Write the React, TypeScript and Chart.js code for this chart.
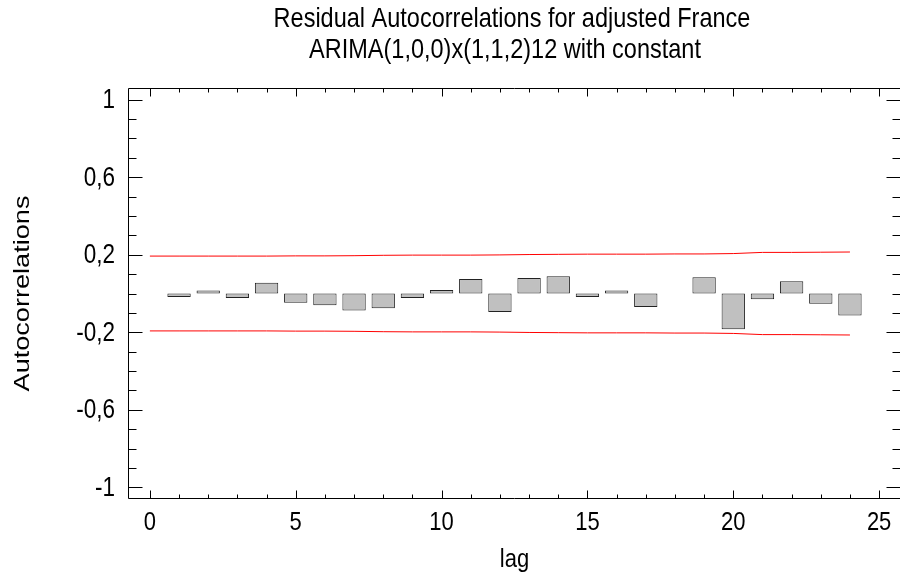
import React, { useEffect, useRef } from 'react';
import { Chart, registerables } from 'chart.js';

Chart.register(...registerables);

const lags = [1, 2, 3, 4, 5, 6, 7, 8, 9, 10, 11, 12, 13, 14, 15, 16, 17, 18, 19, 20, 21, 22, 23, 24];
const acf = [-0.018, 0.015, -0.023, 0.055, -0.048, -0.06, -0.088, -0.076, -0.023, 0.018, 0.075, -0.095,
  0.08, 0.089, -0.018, 0.015, -0.07, null, 0.084, -0.185, -0.03, 0.063, -0.053, -0.114];

const limitLags = [0, 1, 2, 3, 4, 5, 6, 7, 8, 9, 10, 11, 12, 13, 14, 15, 16, 17, 18, 19, 20, 21, 22, 23, 24];
const upperLimit = [0.193, 0.193, 0.193, 0.193, 0.193, 0.194, 0.194, 0.195, 0.197, 0.198, 0.198, 0.198, 0.199,
  0.201, 0.202, 0.203, 0.203, 0.203, 0.204, 0.204, 0.206, 0.212, 0.212, 0.213, 0.214];
const lowerLimit = [-0.193, -0.193, -0.193, -0.193, -0.193, -0.194, -0.194, -0.195, -0.197, -0.198, -0.198, -0.198, -0.199,
  -0.201, -0.202, -0.203, -0.203, -0.203, -0.204, -0.204, -0.206, -0.212, -0.212, -0.213, -0.214];

const xMajorTicks = [0, 5, 10, 15, 20, 25];
const xTickLabels = ['0', '5', '10', '15', '20', '25'];
const xMinorTicks = [0, 1, 2, 3, 4, 5, 6, 7, 8, 9, 10, 11, 12, 13, 14, 15, 16, 17, 18, 19, 20, 21, 22, 23, 24, 25];
const yMajorTicks = [1, 0.6, 0.2, -0.2, -0.6, -1];
const yTickLabels = ['1', '0,6', '0,2', '-0,2', '-0,6', '-1'];
const yMinorTicks = [1, 0.9, 0.8, 0.7, 0.6, 0.5, 0.4, 0.3, 0.2, 0.1, 0, -0.1, -0.2, -0.3, -0.4, -0.5, -0.6, -0.7, -0.8, -0.9, -1];

const titleLines = ['Residual Autocorrelations for adjusted France', 'ARIMA(1,0,0)x(1,1,2)12 with constant'];
const xTitle = 'lag';
const yTitle = 'Autocorrelations';

const FONT = '"Liberation Sans", Arial, sans-serif';
const STRETCH = 1.2;

function drawText(ctx: CanvasRenderingContext2D, text: string, x: number, y: number, size: number, align: CanvasTextAlign, rotate = false) {
  ctx.save();
  ctx.translate(x, y);
  if (rotate) {
    ctx.rotate(-Math.PI / 2);
    ctx.scale(STRETCH, 1);
  } else {
    ctx.scale(1, STRETCH);
  }
  ctx.font = `${size}px ${FONT}`;
  ctx.textAlign = align;
  ctx.textBaseline = 'middle';
  ctx.fillStyle = '#000';
  ctx.fillText(text, 0, 0);
  ctx.restore();
}

const framePlugin = {
  id: 'statFrame',
  afterDraw(chart: any) {
    const ctx = chart.ctx;
    const ca = chart.chartArea;
    const xs = chart.scales.x;
    const ys = chart.scales.y;
    const L = Math.round(ca.left) + 0.5;
    const R = Math.round(ca.right) - 0.5;
    const T = Math.round(ca.top) + 0.5;
    const B = Math.round(ca.bottom) - 0.5;
    ctx.save();
    ctx.strokeStyle = '#000';
    ctx.lineWidth = 1;
    ctx.beginPath();
    ctx.rect(L, T, R - L, B - T);
    ctx.stroke();

    ctx.beginPath();
    for (const v of xMinorTicks) {
      const px = Math.round(xs.getPixelForValue(v)) + 0.5;
      const len = xMajorTicks.includes(v) ? 8 : 4;
      ctx.moveTo(px, B);
      ctx.lineTo(px, B - len);
      ctx.moveTo(px, T);
      ctx.lineTo(px, T + len);
    }
    for (const v of yMinorTicks) {
      const py = Math.round(ys.getPixelForValue(v)) + 0.5;
      const major = yMajorTicks.some((m) => Math.abs(m - v) < 1e-9);
      const len = major ? 14 : 8;
      ctx.moveTo(L, py);
      ctx.lineTo(L + len, py);
      ctx.moveTo(R, py);
      ctx.lineTo(R - len, py);
    }
    ctx.stroke();
    ctx.restore();

    yMajorTicks.forEach((v, i) => {
      drawText(ctx, yTickLabels[i], 115, ys.getPixelForValue(v) + 1, 22.5, 'right');
    });
    xMajorTicks.forEach((v, i) => {
      drawText(ctx, xTickLabels[i], xs.getPixelForValue(v), 523, 22, 'center');
    });
    drawText(ctx, xTitle, (ca.left + ca.right) / 2, 560, 22, 'center');
    drawText(ctx, yTitle, 23, (ca.top + ca.bottom) / 2, 22.6, 'center', true);
    drawText(ctx, titleLines[0], 512, 19, 23.5, 'center');
    drawText(ctx, titleLines[1], 505, 50, 23.5, 'center');
  },
};

export default function App() {
  const ref = useRef<HTMLCanvasElement>(null);
  useEffect(() => {
    const canvas = ref.current;
    if (!canvas) return;
    const chart = new Chart(canvas, {
      type: 'bar',
      data: {
        datasets: [
          {
            type: 'bar',
            label: 'Autocorrelations',
            data: lags.map((l, i) => ({ x: l, y: acf[i] })),
            backgroundColor: '#c0c0c0',
            borderColor: '#222222',
            borderWidth: 1,
            borderSkipped: false,
            categoryPercentage: 0.8,
            barPercentage: 1.0,
            order: 2,
          } as any,
          {
            type: 'line',
            label: 'upper',
            data: limitLags.map((l, i) => ({ x: l, y: upperLimit[i] })),
            borderColor: '#ff0000',
            borderWidth: 1,
            pointRadius: 0,
            tension: 0,
            fill: false,
            order: 1,
          } as any,
          {
            type: 'line',
            label: 'lower',
            data: limitLags.map((l, i) => ({ x: l, y: lowerLimit[i] })),
            borderColor: '#ff0000',
            borderWidth: 1,
            pointRadius: 0,
            tension: 0,
            fill: false,
            order: 1,
          } as any,
        ],
      },
      options: {
        responsive: false,
        animation: false,
        devicePixelRatio: 1,
        layout: { padding: { left: 128, top: 88, right: 1, bottom: 80 } },
        plugins: { legend: { display: false }, tooltip: { enabled: false }, title: { display: false } },
        scales: {
          x: {
            type: 'linear',
            min: -0.75,
            max: 25.75,
            offset: false,
            display: false,
            afterBuildTicks: (scale: any) => {
              scale.ticks = xMinorTicks.map((v) => ({ value: v }));
            },
          },
          y: {
            type: 'linear',
            min: -1.06,
            max: 1.06,
            display: false,
          },
        },
      },
      plugins: [framePlugin],
    });
    return () => chart.destroy();
  }, []);
  return (
    <div style={{ position: 'fixed', left: 0, top: 0, width: 900, height: 579, overflow: 'hidden', background: '#fff' }}>
      <canvas ref={ref} width={902} height={579} style={{ display: 'block' }} />
    </div>
  );
}
